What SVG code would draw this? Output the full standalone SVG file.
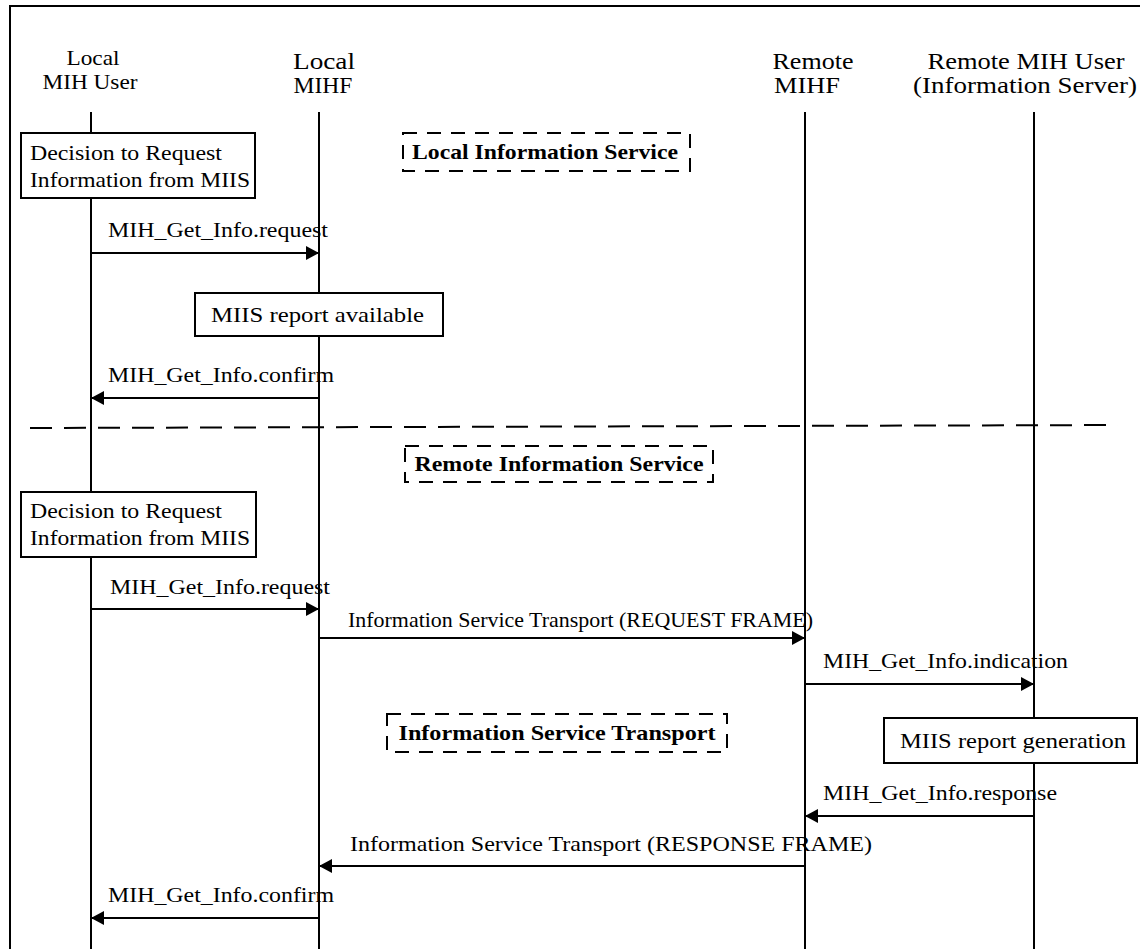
<svg xmlns="http://www.w3.org/2000/svg" width="1140" height="949" viewBox="0 0 1140 949">
  <style>
    .ln { stroke: #000; stroke-width: 2; fill: none; }
    .box { fill: #fff; stroke: #000; stroke-width: 2; }
    .dbox { fill: #fff; stroke: #000; stroke-width: 2; stroke-dasharray: 14 10; }
    .t { font-family: "Liberation Serif", "Times New Roman", serif; font-size: 22px; fill: #000; }
    .hd { font-family: "Liberation Serif", "Times New Roman", serif; font-size: 21px; fill: #000; text-anchor: middle; }
    .hd2 { font-family: "Liberation Serif", "Times New Roman", serif; font-size: 23px; fill: #000; text-anchor: middle; }
    .b { font-family: "Liberation Serif", "Times New Roman", serif; font-size: 22px; font-weight: bold; fill: #000; text-anchor: middle; }
    .msg { stroke: #000; stroke-width: 2; fill: none; marker-end: url(#arrow); }
  </style>
  <defs>
    <marker id="arrow" markerUnits="userSpaceOnUse" markerWidth="13" markerHeight="14" refX="13" refY="7" orient="auto">
      <path d="M0,0 L13,7 L0,14 z" fill="#000"/>
    </marker>
  </defs>

  <rect width="1140" height="949" fill="#fff"/>

  <!-- outer frame (left and top edges) -->
  <path class="ln" d="M10,949 V6 H1140"/>

  <!-- lifelines with their headers -->
  <g id="local-user">
    <text class="hd" x="93" y="65" textLength="53" lengthAdjust="spacingAndGlyphs">Local</text>
    <text class="hd" x="90" y="89" textLength="95" lengthAdjust="spacingAndGlyphs">MIH User</text>
    <line class="ln" x1="91" y1="112" x2="91" y2="949"/>
  </g>
  <g id="local-mihf">
    <text class="hd2" x="324" y="69" textLength="62" lengthAdjust="spacingAndGlyphs">Local</text>
    <text class="hd2" x="323" y="93" textLength="59" lengthAdjust="spacingAndGlyphs">MIHF</text>
    <line class="ln" x1="319" y1="112" x2="319" y2="949"/>
  </g>
  <g id="remote-mihf">
    <text class="hd2" x="813" y="69" textLength="81" lengthAdjust="spacingAndGlyphs">Remote</text>
    <text class="hd2" x="807" y="93" textLength="66" lengthAdjust="spacingAndGlyphs">MIHF</text>
    <line class="ln" x1="805" y1="112" x2="805" y2="949"/>
  </g>
  <g id="remote-user">
    <text class="hd2" x="1026" y="69" textLength="197" lengthAdjust="spacingAndGlyphs">Remote MIH User</text>
    <text class="hd2" x="1025" y="93" textLength="224" lengthAdjust="spacingAndGlyphs">(Information Server)</text>
    <line class="ln" x1="1034" y1="112" x2="1034" y2="949"/>
  </g>

  <!-- section separator -->
  <line class="ln" x1="30" y1="428" x2="1118" y2="425" stroke-dasharray="22 12"/>

  <!-- activity boxes -->
  <g id="decision-1">
    <rect class="box" x="21" y="133" width="234" height="65"/>
    <text class="t" x="30" y="160" textLength="192" lengthAdjust="spacingAndGlyphs">Decision to Request</text>
    <text class="t" x="30" y="187" textLength="220" lengthAdjust="spacingAndGlyphs">Information from MIIS</text>
  </g>
  <g id="local-is">
    <rect class="dbox" x="403" y="133" width="287" height="38"/>
    <text class="b" x="545" y="159" textLength="266" lengthAdjust="spacingAndGlyphs">Local Information Service</text>
  </g>
  <g id="report-available">
    <rect class="box" x="195" y="293" width="248" height="43"/>
    <text class="t" x="211" y="322" textLength="213" lengthAdjust="spacingAndGlyphs">MIIS report available</text>
  </g>
  <g id="remote-is">
    <rect class="dbox" x="405" y="446" width="308" height="36"/>
    <text class="b" x="559" y="471" textLength="289" lengthAdjust="spacingAndGlyphs">Remote Information Service</text>
  </g>
  <g id="decision-2">
    <rect class="box" x="21" y="492" width="235" height="65"/>
    <text class="t" x="30" y="518" textLength="192" lengthAdjust="spacingAndGlyphs">Decision to Request</text>
    <text class="t" x="30" y="545" textLength="220" lengthAdjust="spacingAndGlyphs">Information from MIIS</text>
  </g>
  <g id="transport">
    <rect class="dbox" x="387" y="714" width="340" height="38"/>
    <text class="b" x="557" y="740" textLength="317" lengthAdjust="spacingAndGlyphs">Information Service Transport</text>
  </g>
  <g id="report-generation">
    <rect class="box" x="884" y="718" width="253" height="45"/>
    <text class="t" x="900" y="748" textLength="226" lengthAdjust="spacingAndGlyphs">MIIS report generation</text>
  </g>

  <!-- messages -->
  <g id="connectors">
    <line class="msg" x1="91" y1="253" x2="319" y2="253"/>
    <line class="msg" x1="319" y1="398" x2="91" y2="398"/>
    <line class="msg" x1="91" y1="609" x2="319" y2="609"/>
    <line class="msg" x1="319" y1="638" x2="805" y2="638"/>
    <line class="msg" x1="805" y1="684" x2="1034" y2="684"/>
    <line class="msg" x1="1034" y1="816" x2="805" y2="816"/>
    <line class="msg" x1="805" y1="866" x2="319" y2="866"/>
    <line class="msg" x1="319" y1="918" x2="91" y2="918"/>
  </g>
  <g id="message-labels">
    <text class="t" x="108" y="237" textLength="220" lengthAdjust="spacingAndGlyphs">MIH_Get_Info.request</text>
    <text class="t" x="108" y="382" textLength="226" lengthAdjust="spacingAndGlyphs">MIH_Get_Info.confirm</text>
    <text class="t" x="110" y="594" textLength="220" lengthAdjust="spacingAndGlyphs">MIH_Get_Info.request</text>
    <text class="t" x="348" y="627" textLength="465" lengthAdjust="spacingAndGlyphs">Information Service Transport (REQUEST FRAME)</text>
    <text class="t" x="823" y="668" textLength="245" lengthAdjust="spacingAndGlyphs">MIH_Get_Info.indication</text>
    <text class="t" x="823" y="800" textLength="234" lengthAdjust="spacingAndGlyphs">MIH_Get_Info.response</text>
    <text class="t" x="350" y="851" textLength="522" lengthAdjust="spacingAndGlyphs">Information Service Transport (RESPONSE FRAME)</text>
    <text class="t" x="108" y="902" textLength="226" lengthAdjust="spacingAndGlyphs">MIH_Get_Info.confirm</text>
  </g>
</svg>
